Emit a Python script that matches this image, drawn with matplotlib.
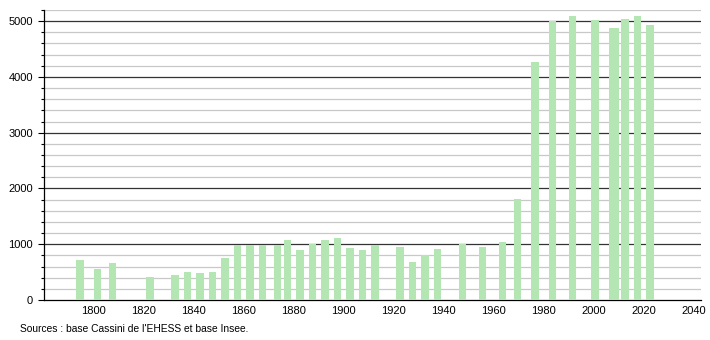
import matplotlib
matplotlib.use('Agg')
import matplotlib.pyplot as plt
import numpy as np

# census years and population
years = [1793, 1800, 1806, 1821, 1831, 1836, 1841, 1846, 1851, 1856, 1861, 1866,
         1872, 1876, 1881, 1886, 1891, 1896, 1901, 1906, 1911, 1921, 1926, 1931,
         1936, 1946, 1954, 1962, 1968, 1975, 1982, 1990, 1999, 2006, 2007, 2011,
         2016, 2021]
population = [720, 564, 666, 414, 450, 504, 486, 504, 756, 990, 990, 990,
              990, 1080, 900, 1008, 1080, 1116, 936, 888, 984, 948, 684, 804,
              918, 1002, 954, 1044, 1819, 4268, 5000, 5096, 5018, 4874, 4880, 5036,
              5096, 4934]
xticks = list(range(1800, 2041, 20))
source_text = "Sources : base Cassini de l'EHESS et base Insee."

plt.rcParams['font.family'] = ['Liberation Sans', 'DejaVu Sans']

fig = plt.figure(figsize=(7.1, 3.4), dpi=100)
ax = fig.add_axes([44/710, 40/340, 657/710, 290/340])

ax.bar(years, population, width=3, align='edge', color='#b3e6b3', zorder=3)

ax.set_xlim(1780, 2043)
ax.set_ylim(0, 5200)

# grid: light every 200, dark every 1000
for v in np.arange(200, 5201, 200):
    if v % 1000 == 0:
        ax.axhline(v, color='#333333', lw=0.9, zorder=1)
    else:
        ax.axhline(v, color='#c8c8c8', lw=0.9, zorder=1)

ax.set_xticks(xticks)
ax.set_xticklabels([str(t) for t in xticks], fontsize=8)
ax.tick_params(axis='x', length=0, pad=4)
ax.set_yticks(range(0, 5001, 1000))
ax.set_yticklabels([str(t) for t in range(0, 5001, 1000)], fontsize=8)
ax.set_yticks(range(0, 5201, 200), minor=True)
ax.tick_params(axis='y', which='major', length=4, width=0.8, pad=4)
ax.tick_params(axis='y', which='minor', length=2, width=0.8)

for s in ['top', 'right']:
    ax.spines[s].set_visible(False)
ax.spines['left'].set_linewidth(0.9)
ax.spines['bottom'].set_linewidth(0.9)

fig.text(20/710, 1 - 329/340, source_text, fontsize=7.4, va='center', ha='left')

fig.savefig('out.png', dpi=100)
